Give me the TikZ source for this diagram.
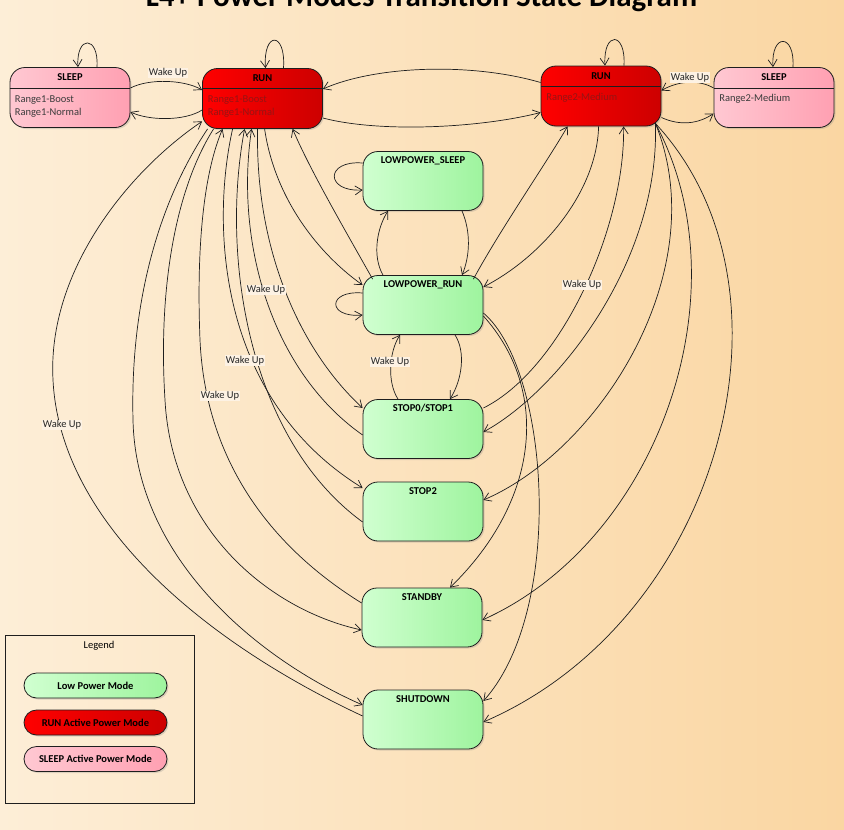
\documentclass[tikz,border=0pt]{standalone}
\usepackage{fontspec}
\setmainfont{Carlito}
\usetikzlibrary{arrows.meta,shadows}
\definecolor{bgL}{RGB}{253,238,215}
\definecolor{bgM}{RGB}{252,229,192}
\definecolor{bgR}{RGB}{250,214,162}
\definecolor{grL}{RGB}{208,255,208}
\definecolor{grR}{RGB}{158,244,158}
\definecolor{rdL}{RGB}{255,0,0}
\definecolor{rdR}{RGB}{205,0,0}
\definecolor{pkL}{RGB}{255,200,210}
\definecolor{pkR}{RGB}{255,160,178}
\definecolor{rdtxt}{RGB}{150,20,20}
\definecolor{gytxt}{RGB}{60,60,60}
\definecolor{lblbg}{RGB}{253,242,228}
\definecolor{edge}{RGB}{30,30,30}
\begin{document}
\begin{tikzpicture}[x=1pt,y=-1pt,
  every node/.style={font=\fontsize{10.5}{12}\selectfont},
  basebox/.style={draw=edge, line width=0.8pt, rounded corners=15pt,
    minimum width=120pt, inner xsep=0pt,
    drop shadow={shadow xshift=1.5pt,shadow yshift=-1.5pt,opacity=0.25}},
  lowstate/.style={basebox, left color=grL, right color=grR,
    minimum height=59pt, text height=7pt, text depth=42pt, inner ysep=5pt,
    font=\fontsize{10.5}{12}\selectfont\bfseries},
  runstate/.style={basebox, left color=rdL, right color=rdR,
    minimum height=60pt, text height=7pt, text depth=41pt, inner ysep=6pt,
    font=\fontsize{10.5}{12}\selectfont\bfseries},
  sleepstate/.style={basebox, left color=pkL, right color=pkR,
    minimum height=60pt, text height=7pt, text depth=41pt, inner ysep=6pt,
    font=\fontsize{10.5}{12}\selectfont\bfseries},
  hdr/.style={draw=edge, line width=0.8pt},
  comptext/.style={anchor=base west, inner sep=0pt, text=gytxt},
  runtext/.style={anchor=base west, inner sep=0pt, text=rdtxt},
  trans/.style={draw=edge, line width=0.7pt, -{Straight Barb[length=7pt,width=9pt]}},
  wake/.style={fill=lblbg, inner sep=1pt, text=black!85},
  legitem/.style={draw=edge, line width=0.8pt, rounded corners=12.5pt,
    minimum width=143pt, minimum height=25pt,
    drop shadow={shadow xshift=1.5pt,shadow yshift=-1.5pt,opacity=0.25},
    font=\fontsize{10.5}{12}\selectfont\bfseries},
]
% background and frame
\useasboundingbox (0,0) rectangle (844,830);
\fill[left color=bgL, middle color=bgM, right color=bgR] (0,0) rectangle (844,830);

% title (partly cut by the top edge)
\node[anchor=base, font=\fontsize{31}{31}\selectfont\bfseries] (title) at (421.5,6)
  {L4+ Power Modes Transition State Diagram};

% top states
\node[sleepstate] (sleep1) at (70,97.5) {SLEEP};
\node[runstate]   (run1)   at (262.5,98.5) {RUN};
\node[runstate]   (run2)   at (601,96) {RUN};
\node[sleepstate] (sleep2) at (774,97.5) {SLEEP};

\draw[hdr] ([yshift=-21pt]sleep1.north west) -- ([yshift=-21pt]sleep1.north east);
\draw[hdr] ([yshift=-20.5pt]run1.north west) -- ([yshift=-20.5pt]run1.north east);
\draw[hdr] ([yshift=-21pt]run2.north west) -- ([yshift=-21pt]run2.north east);
\draw[hdr] ([yshift=-21pt]sleep2.north west) -- ([yshift=-21pt]sleep2.north east);

\node[comptext] (s1a) at ([xshift=5pt,yshift=-35pt]sleep1.north west) {Range1-Boost};
\node[comptext] (s1b) at ([xshift=5pt,yshift=-48pt]sleep1.north west) {Range1-Normal};
\node[runtext]  (r1a) at ([xshift=5.5pt,yshift=-34pt]run1.north west) {Range1-Boost};
\node[runtext]  (r1b) at ([xshift=5.5pt,yshift=-47pt]run1.north west) {Range1-Normal};
\node[runtext]  (r2a) at ([xshift=5.5pt,yshift=-35pt]run2.north west) {Range2-Medium};
\node[comptext] (s2a) at ([xshift=5.5pt,yshift=-34.5pt]sleep2.north west) {Range2-Medium};

% low power states
\node[lowstate] (lps)      at (423,181)   {LOWPOWER\_SLEEP};
\node[lowstate] (lpr)      at (423,305)   {LOWPOWER\_RUN};
\node[lowstate] (stop01)   at (423,429)   {STOP0/STOP1};
\node[lowstate] (stop2)    at (423,511.5) {STOP2};
\node[lowstate] (standby)  at (422,617.5) {STANDBY};
\node[lowstate] (shutdown) at (423,719.5) {SHUTDOWN};

% legend
\node[draw=edge, line width=0.7pt, minimum width=189pt, minimum height=168pt,
      anchor=north west, inner sep=0pt] (legend) at (4.5,635) {};
\node (legtitle) at (99,646) {Legend};
\node[legitem, left color=grL, right color=grR] (lg1) at (95.5,685.5) {Low Power Mode};
\node[legitem, left color=rdL, right color=rdR] (lg2) at (95.5,722.5) {RUN Active Power Mode};
\node[legitem, left color=pkL, right color=pkR] (lg3) at (95.5,759) {SLEEP Active Power Mode};

% self loops
\draw[trans] ([xshift=27pt]sleep1.north) .. controls (99,35) and (76,35) .. ([xshift=8pt]sleep1.north);
\draw[trans] ([xshift=21pt]run1.north) .. controls (286,31) and (263,31) .. ([xshift=3pt]run1.north);
\draw[trans] ([xshift=23pt]run2.north) .. controls (626,31) and (603,31) .. ([xshift=4pt]run2.north);
\draw[trans] ([xshift=19pt]sleep2.north) .. controls (795,33) and (771,33) .. ([xshift=-1pt]sleep2.north);
\draw[trans] ([yshift=18pt]lps.west) .. controls (325,160) and (325,192) .. ([yshift=-9pt]lps.west);
\draw[trans] ([yshift=12pt]lpr.west) .. controls (327,290) and (327,318) .. ([yshift=-10pt]lpr.west);

% top transitions
\draw[trans] ([yshift=9.5pt]sleep1.east) .. controls (150,78) and (185,80) .. ([yshift=8.5pt]run1.west);
\draw[trans] ([yshift=-11.5pt]run1.west) .. controls (185,121) and (150,121) .. ([yshift=-14.5pt]sleep1.east);
\draw[trans] ([yshift=13.5pt]run2.west) .. controls (470,62) and (375,66) .. ([yshift=9.5pt]run1.east);
\draw[trans] ([yshift=-19.5pt]run1.east) .. controls (380,133) and (480,128) .. ([yshift=-16.5pt]run2.west);
\draw[trans] ([yshift=9.5pt]sleep2.west) .. controls (700,80) and (680,80) .. ([yshift=5.5pt]run2.east);
\draw[trans] ([yshift=-21.5pt]run2.east) .. controls (680,126) and (698,124) .. ([yshift=-16pt]sleep2.west);

% center column
\draw[trans] ([xshift=39pt]lps.south) .. controls (471,232) and (470,256) .. ([xshift=39pt]lpr.north);
\draw[trans] ([xshift=-40pt]lpr.north) .. controls (372,256) and (377,228) .. ([xshift=-35pt]lps.south);
\draw[trans] ([xshift=32pt]lpr.south) .. controls (466,352) and (462,380) .. ([xshift=27pt]stop01.north);
\draw[trans] ([xshift=-25pt]stop01.north) .. controls (387,382) and (389,352) .. ([xshift=-23pt]lpr.south);
\draw[trans] ([yshift=-11pt]lpr.east) .. controls (550,390) and (540,500) .. ([xshift=28pt]standby.north);
\draw[trans] ([yshift=-8pt]lpr.east) .. controls (550,370) and (565,610) .. ([yshift=18.5pt]shutdown.east);

% RUN (Range2) transitions
\draw[trans] ([xshift=58pt]run2.south west) .. controls (597,190) and (545,255) .. ([yshift=18pt]lpr.east);
\draw[trans] ([xshift=-10pt,yshift=-4pt]lpr.north east) .. controls (500,230) and (545,165) .. ([xshift=27pt]run2.south west);
\draw[trans] ([yshift=21pt]stop01.east) .. controls (560,370) and (625,230) .. ([xshift=83pt]run2.south west);
\draw[trans] ([xshift=-6pt,yshift=3pt]run2.south east) .. controls (660,260) and (560,390) .. ([yshift=-3pt]stop01.east);
\draw[trans] ([xshift=-6pt,yshift=3pt]run2.south east) .. controls (715,270) and (600,450) .. ([yshift=11.5pt]stop2.east);
\draw[trans] ([xshift=-6pt,yshift=3pt]run2.south east) .. controls (745,290) and (660,540) .. ([yshift=-2.5pt]standby.east);
\draw[trans] ([xshift=-6pt,yshift=3pt]run2.south east) .. controls (810,290) and (720,620) .. ([yshift=-2.5pt]shutdown.east);

% RUN (Range1) transitions
\draw[trans] ([yshift=3.5pt]shutdown.west) .. controls (200,640) and (60,520) .. (53,380)
  .. controls (47,270) and (130,170) .. ([yshift=7.5pt]run1.south west);
\draw[trans] ([xshift=5.5pt]run1.south west) .. controls (160,200) and (130,300) .. (133,420)
  .. controls (136,560) and (260,660) .. ([yshift=14.5pt]shutdown.west);
\draw[trans] ([xshift=11.5pt]run1.south west) .. controls (175,190) and (158,290) .. (165,400)
  .. controls (172,530) and (270,610) .. ([yshift=-12.5pt]standby.west);
\draw[trans] ([yshift=14.5pt]standby.west) .. controls (260,540) and (205,450) .. (200,340)
  .. controls (196,240) and (205,170) .. ([xshift=20.5pt]run1.south west);
\draw[trans] ([xshift=30.5pt]run1.south west) .. controls (210,230) and (220,400) .. ([yshift=23.5pt]stop2.west);
\draw[trans] ([yshift=-10.5pt]stop2.west) .. controls (250,440) and (220,260) .. ([xshift=42.5pt]run1.south west);
\draw[trans] ([yshift=-6pt]stop01.west) .. controls (270,370) and (235,240) .. ([xshift=49.5pt]run1.south west);
\draw[trans] ([xshift=55.5pt]run1.south west) .. controls (255,250) and (300,350) .. ([yshift=21pt]stop01.west);
\draw[trans] ([xshift=62.5pt]run1.south west) .. controls (275,200) and (320,255) .. ([yshift=20pt]lpr.west);
\draw[trans] ([xshift=10pt,yshift=-4pt]lpr.north west) .. controls (345,230) and (310,170) .. ([xshift=90.5pt]run1.south west);

% labels
\node[wake] (w1) at (168,73) {Wake Up};
\node[wake] (w2) at (690,77.5) {Wake Up};
\node[wake] (w3) at (390,362) {Wake Up};
\node[wake] (w4) at (582,285) {Wake Up};
\node[wake] (w5) at (266,290) {Wake Up};
\node[wake] (w6) at (245,360.5) {Wake Up};
\node[wake] (w7) at (220,396) {Wake Up};
\node[wake] (w8) at (62,425) {Wake Up};
\end{tikzpicture}
\end{document}
